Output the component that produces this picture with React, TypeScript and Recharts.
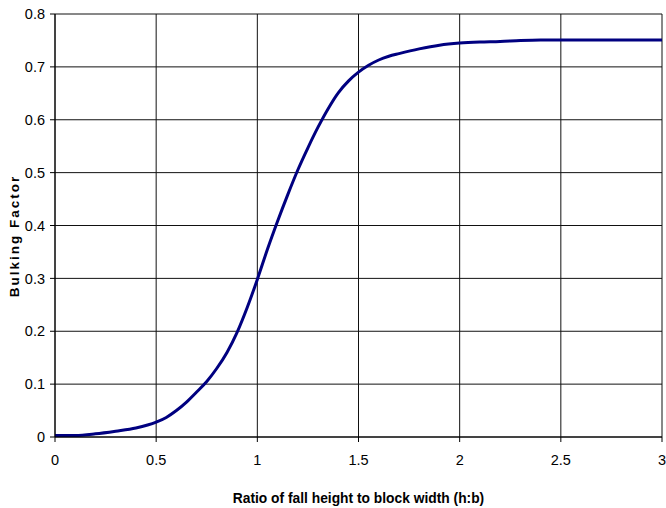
import { CartesianGrid, Label, Line, LineChart, XAxis, YAxis } from "recharts"

const ratio = [
    0, 0.1, 0.2, 0.3, 0.4, 0.5, 0.55, 0.6, 0.65, 0.7, 0.75, 0.8, 0.85, 0.9, 0.95,
    1.0, 1.05, 1.1, 1.15, 1.2, 1.25, 1.3, 1.35, 1.4, 1.45, 1.5, 1.55, 1.6, 1.65,
    1.7, 1.8, 1.9, 2.0, 2.1, 2.2, 2.3, 2.4, 2.5, 2.75, 3.0,
]
const bulking = [
    0.003, 0.003, 0.006, 0.011, 0.017, 0.028, 0.037, 0.05, 0.066, 0.085, 0.105, 0.13, 0.16, 0.198, 0.245,
    0.298, 0.355, 0.408, 0.458, 0.505, 0.547, 0.586, 0.621, 0.651, 0.673, 0.69, 0.703, 0.713, 0.72,
    0.725, 0.734, 0.741, 0.745, 0.747, 0.748, 0.75, 0.751, 0.751, 0.751, 0.751,
]
const xTicks = [0, 0.5, 1, 1.5, 2, 2.5, 3]
const yTicks = [0, 0.1, 0.2, 0.3, 0.4, 0.5, 0.6, 0.7, 0.8]

const data = ratio.map((r, i) => ({ r, b: bulking[i] }))

const font = '"Liberation Sans", Arial, sans-serif'

export default function App() {
    return (
        <div style={{ position: "absolute", left: 0, top: 0, background: "#fff" }}>
            <LineChart width={666} height={508} data={data} margin={{ top: 14, right: 4, left: 0, bottom: 0 }}>
                <CartesianGrid stroke="#111" strokeWidth={1} />
                <XAxis
                    dataKey="r"
                    type="number"
                    domain={[0, 3]}
                    ticks={xTicks}
                    height={71}
                    stroke="#000"
                    tickSize={5}
                    tickMargin={13}
                    tick={{ fill: "#000", fontSize: 14.5, fontFamily: font }}
                >
                    <Label
                        value="Ratio of fall height to block width (h:b)"
                        position="insideBottom"
                        offset={5}
                        style={{ fill: "#000", fontSize: 13.8, fontWeight: "bold", fontFamily: font }}
                    />
                </XAxis>
                <YAxis
                    type="number"
                    domain={[0, 0.8]}
                    ticks={yTicks}
                    width={55}
                    stroke="#000"
                    tickSize={5}
                    tickMargin={5}
                    tick={{ fill: "#000", fontSize: 14.5, fontFamily: font }}
                >
                    <Label
                        content={() => (
                            <text
                                x={14}
                                y={236}
                                transform="rotate(-90 14 236)"
                                textAnchor="middle"
                                dominantBaseline="central"
                                style={{ fill: "#000", fontSize: 13.5, fontWeight: "bold", fontFamily: font, letterSpacing: 2 }}
                            >
                                Bulking Factor
                            </text>
                        )}
                    />
                </YAxis>
                <Line
                    type="monotone"
                    dataKey="b"
                    stroke="#000080"
                    strokeWidth={3}
                    dot={false}
                    isAnimationActive={false}
                />
            </LineChart>
        </div>
    )
}
